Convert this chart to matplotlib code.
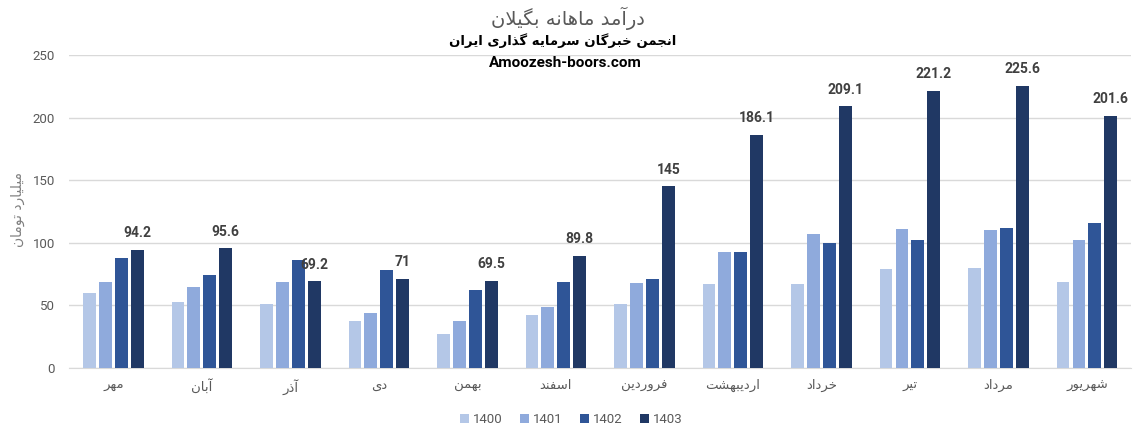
import numpy as np
import matplotlib
matplotlib.use("Agg")
from matplotlib import pyplot as plt

# monthly income of the company, billion toman
months = ["مهر", "آبان", "آذر", "دی", "بهمن", "اسفند",
          "فروردین", "اردیبهشت", "خرداد", "تیر", "مرداد", "شهریور"]
years = ["1400", "1401", "1402", "1403"]

y1400 = [59.5, 52.3, 50.7, 37.9, 27.5, 42.7, 50.7, 66.7, 67.0, 79.0, 79.8, 68.6]
y1401 = [68.3, 65.0, 69.0, 44.3, 37.9, 49.1, 67.5, 93.0, 107.0, 111.0, 110.3, 102.3]
y1402 = [87.5, 73.9, 85.9, 77.9, 61.9, 68.3, 70.7, 93.0, 99.9, 102.3, 111.9, 115.9]
y1403 = [94.2, 95.6, 69.2, 71, 69.5, 89.8, 145, 186.1, 209.1, 221.2, 225.6, 201.6]

colors = ["#b4c7e7", "#8faadc", "#2f5597", "#203864"]

# -- tiny arabic shaper: matplotlib has no RTL shaping of its own
# forms: isolated, final, initial, medial (None = does not join forward)
FORMS = {
	"ا": ("\uFE8D", "\uFE8E", None, None),
	"آ": ("\uFE81", "\uFE82", None, None),
	"ب": ("\uFE8F", "\uFE90", "\uFE91", "\uFE92"),
	"ت": ("\uFE95", "\uFE96", "\uFE97", "\uFE98"),
	"ج": ("\uFE9D", "\uFE9E", "\uFE9F", "\uFEA0"),
	"خ": ("\uFEA5", "\uFEA6", "\uFEA7", "\uFEA8"),
	"د": ("\uFEA9", "\uFEAA", None, None),
	"ذ": ("\uFEAB", "\uFEAC", None, None),
	"ر": ("\uFEAD", "\uFEAE", None, None),
	"ز": ("\uFEAF", "\uFEB0", None, None),
	"س": ("\uFEB1", "\uFEB2", "\uFEB3", "\uFEB4"),
	"ش": ("\uFEB5", "\uFEB6", "\uFEB7", "\uFEB8"),
	"ف": ("\uFED1", "\uFED2", "\uFED3", "\uFED4"),
	"ل": ("\uFEDD", "\uFEDE", "\uFEDF", "\uFEE0"),
	"م": ("\uFEE1", "\uFEE2", "\uFEE3", "\uFEE4"),
	"ن": ("\uFEE5", "\uFEE6", "\uFEE7", "\uFEE8"),
	"ه": ("\uFEE9", "\uFEEA", "\uFEEB", "\uFEEC"),
	"و": ("\uFEED", "\uFEEE", None, None),
	"ی": ("\uFBFC", "\uFBFD", "\uFBFE", "\uFBFF"),
	"گ": ("\uFB92", "\uFB93", "\uFB94", "\uFB95"),
}


def joins_forward(ch):
	return ch in FORMS and FORMS[ch][2] is not None


def fa(text):
	chars = list(text)
	out = []
	i = 0
	while i < len(chars):
		ch = chars[i]
		prev = chars[i - 1] if i > 0 else ""
		after_join = joins_forward(prev)
		# lam-alef ligature
		if ch == "ل" and i + 1 < len(chars) and chars[i + 1] in "اآ":
			if chars[i + 1] == "ا":
				out.append("\uFEFC" if after_join else "\uFEFB")
			else:
				out.append("\uFEF6" if after_join else "\uFEF5")
			i += 2
			continue
		if ch not in FORMS:
			out.append(ch)
			i += 1
			continue
		nxt = chars[i + 1] if i + 1 < len(chars) else ""
		before_join = joins_forward(ch) and nxt in FORMS
		iso, fin, ini, med = FORMS[ch]
		if after_join and before_join:
			out.append(med)
		elif after_join:
			out.append(fin)
		elif before_join:
			out.append(ini)
		else:
			out.append(iso)
		i += 1
	return "".join(reversed(out))


plt.rcParams["font.family"] = ["Roboto", "DejaVu Sans"]

fig = plt.figure(figsize=(11.42, 4.37), dpi=100)
ax = fig.add_axes([0.0605, 0.158, 0.93, 0.716])

x = np.arange(len(months))
series = [y1400, y1401, y1402, y1403]
pitch = 0.18
width = 0.145
for k, vals in enumerate(series):
	pos = x + (k - 1.5) * pitch
	ax.bar(pos, vals, width, color=colors[k], label=years[k], zorder=3)
	if k == 3:
		for px, v in zip(pos, vals):
			ax.annotate("%g" % v, (px, v), xytext=(0, 7), textcoords="offset points",
				ha="center", va="bottom", fontsize=10, fontweight="bold", color="#404040")

ax.set_xlim(-0.5, len(months) - 0.5)
ax.set_ylim(0, 250)
ax.set_yticks(np.arange(0, 251, 50))
ax.set_xticks(x)
ax.tick_params(axis="both", length=0, labelsize=9.5, labelcolor="#595959")
ax.set_xticklabels([fa(m) for m in months], fontsize=9.5, family="DejaVu Sans")
ax.tick_params(axis="x", pad=8)
ax.tick_params(axis="y", pad=10)
ax.grid(axis="y", color="#d9d9d9", linewidth=1, zorder=0)
for s in ["top", "right", "left"]:
	ax.spines[s].set_visible(False)
ax.spines["bottom"].set_color("#d9d9d9")

fig.text(0.016, 0.52, fa("میلیارد تومان"), rotation=90, ha="center", va="center",
	fontsize=10, color="#7f7f7f", family="DejaVu Sans")

fig.text(0.497, 0.958, fa("درآمد ماهانه بگیلان"), ha="center", va="center",
	fontsize=14, color="#595959", family="DejaVu Sans")
fig.text(0.493, 0.907, fa("انجمن خبرگان سرمایه گذاری ایران"), ha="center", va="center",
	fontsize=9.5, fontweight="bold", color="black", family="DejaVu Sans")
fig.text(0.495, 0.855, "Amoozesh-boors.com", ha="center", va="center",
	fontsize=11, fontweight="bold", color="black")

leg = fig.legend(loc="center", bbox_to_anchor=(0.5, 0.04), ncol=4, frameon=False,
	fontsize=9.5, handlelength=0.7, handleheight=0.7, handletextpad=0.3, columnspacing=1.3)
for t in leg.get_texts():
	t.set_color("#595959")

fig.savefig("out.png", dpi=100)
